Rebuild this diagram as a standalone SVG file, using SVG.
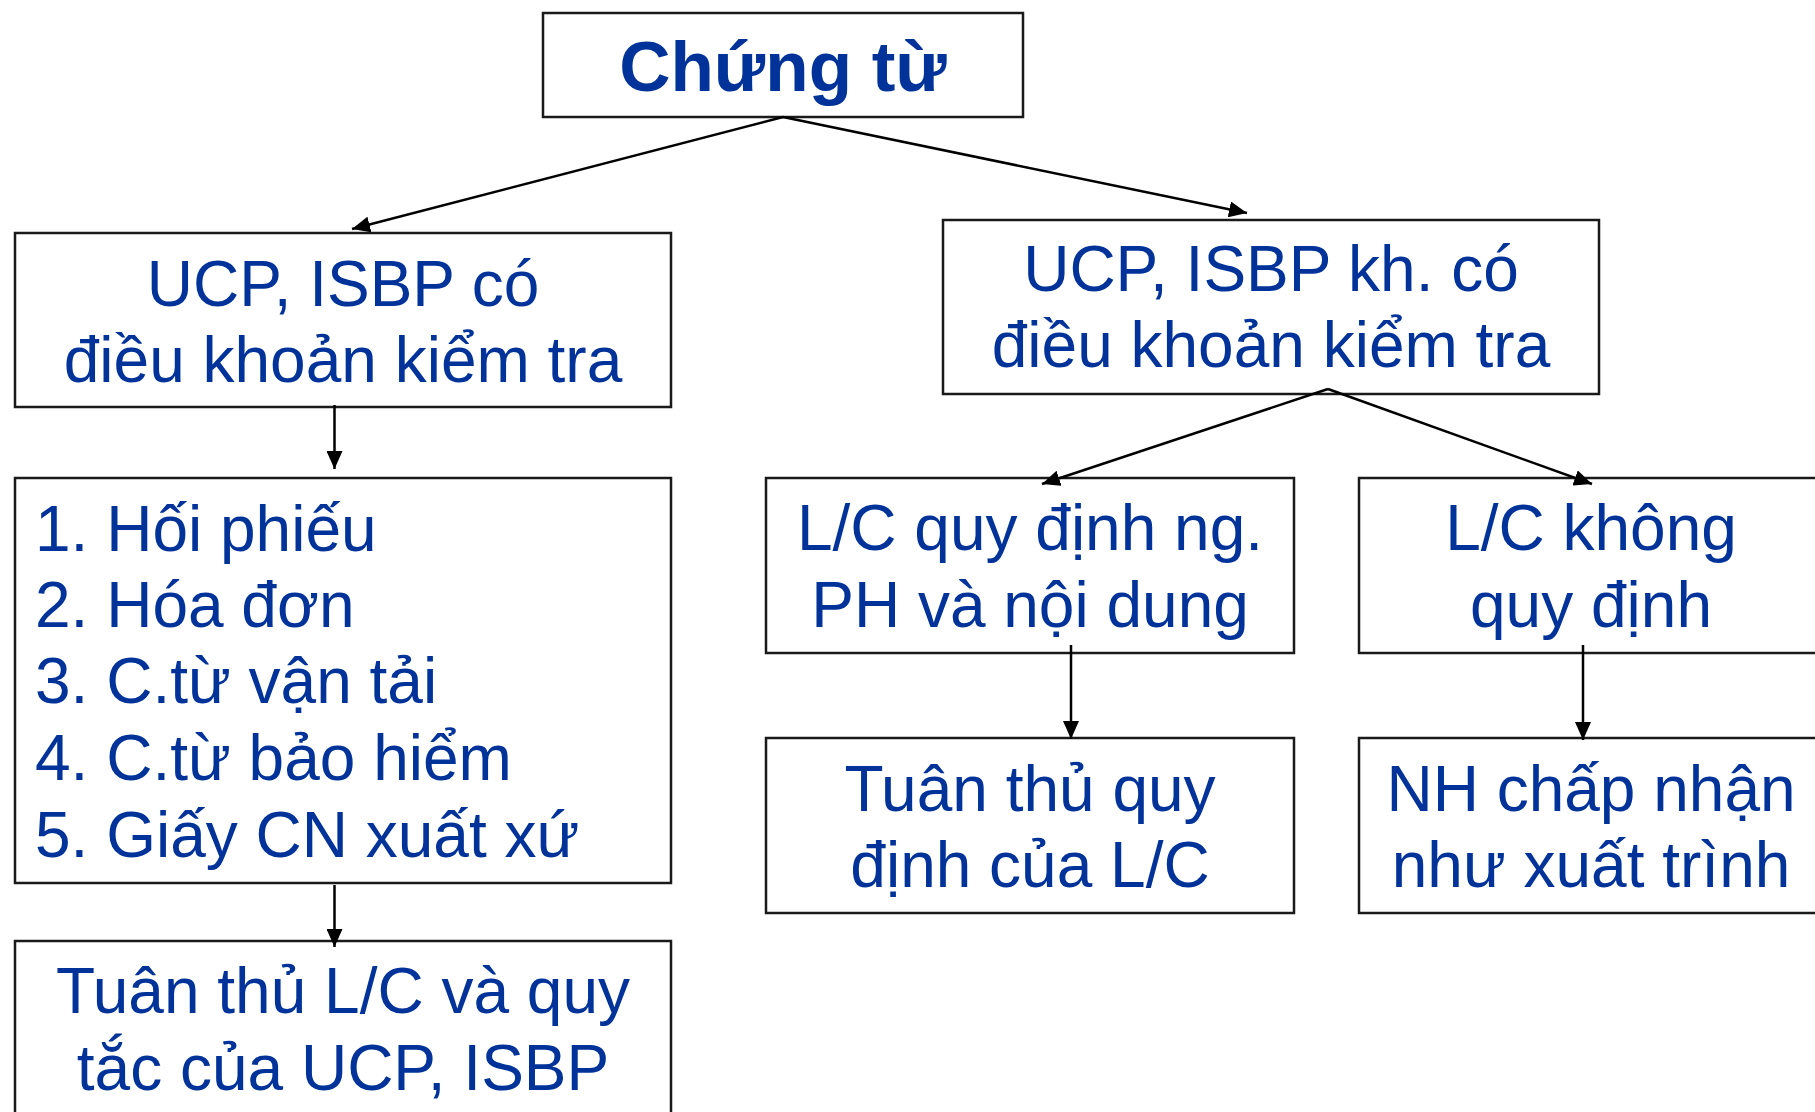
<svg xmlns="http://www.w3.org/2000/svg" width="1815" height="1112" viewBox="0 0 1815 1112">
  <style>
    .box { fill: #ffffff; stroke: #1a1a1a; stroke-width: 2.5; }
    .lbl { font-family: "Liberation Sans", Arial, sans-serif; font-size: 64px; fill: #003399; text-anchor: middle; }
    .lst { font-family: "Liberation Sans", Arial, sans-serif; font-size: 64px; fill: #003399; }
    .ttl { font-family: "Liberation Sans", Arial, sans-serif; font-size: 71px; font-weight: bold; fill: #003399; text-anchor: middle; }
    .con { stroke: #000000; stroke-width: 2.5; fill: none; marker-end: url(#arrow); }
  </style>
  <defs>
    <marker id="arrow" markerUnits="userSpaceOnUse" markerWidth="18" markerHeight="16" viewBox="0 0 18 16" refX="18" refY="8" orient="auto">
      <path d="M0,0 L18,8 L0,16 Z" fill="#000000"/>
    </marker>
  </defs>
  <rect width="1815" height="1112" fill="#ffffff"/>

  <g id="chung-tu">
    <rect class="box" x="543" y="13" width="480" height="104"/>
    <text class="ttl" x="783" y="91">Chứng từ</text>
  </g>

  <g id="ucp-co">
    <rect class="box" x="15" y="233" width="656" height="174"/>
    <text class="lbl" x="343" y="306">UCP, ISBP có</text>
    <text class="lbl" x="343" y="382">điều khoản kiểm tra</text>
  </g>

  <g id="ucp-khong">
    <rect class="box" x="943" y="220" width="656" height="174"/>
    <text class="lbl" x="1271" y="291">UCP, ISBP kh. có</text>
    <text class="lbl" x="1271" y="367">điều khoản kiểm tra</text>
  </g>

  <g id="danh-sach">
    <rect class="box" x="15" y="478" width="656" height="405"/>
    <text class="lst" x="35" y="551">1. Hối phiếu</text>
    <text class="lst" x="35" y="627">2. Hóa đơn</text>
    <text class="lst" x="35" y="703">3. C.từ vận tải</text>
    <text class="lst" x="35" y="780">4. C.từ bảo hiểm</text>
    <text class="lst" x="35" y="857">5. Giấy CN xuất xứ</text>
  </g>

  <g id="tuan-thu-ucp">
    <rect class="box" x="15" y="941" width="656" height="190"/>
    <text class="lbl" x="343" y="1013">Tuân thủ L/C và quy</text>
    <text class="lbl" x="343" y="1090">tắc của UCP, ISBP</text>
  </g>

  <g id="lc-quy-dinh">
    <rect class="box" x="766" y="478" width="528" height="175"/>
    <text class="lbl" x="1030" y="550">L/C quy định ng.</text>
    <text class="lbl" x="1030" y="627">PH và nội dung</text>
  </g>

  <g id="lc-khong">
    <rect class="box" x="1359" y="478" width="480" height="175"/>
    <text class="lbl" x="1591" y="550">L/C không</text>
    <text class="lbl" x="1591" y="627">quy định</text>
  </g>

  <g id="tuan-thu-lc">
    <rect class="box" x="766" y="738" width="528" height="175"/>
    <text class="lbl" x="1030" y="811">Tuân thủ quy</text>
    <text class="lbl" x="1030" y="887">định của L/C</text>
  </g>

  <g id="nh-chap-nhan">
    <rect class="box" x="1359" y="738" width="480" height="175"/>
    <text class="lbl" x="1591" y="811">NH chấp nhận</text>
    <text class="lbl" x="1591" y="887">như xuất trình</text>
  </g>

  <!-- connectors, drawn over the boxes -->
  <g id="connectors">
    <line class="con" x1="783" y1="117" x2="352" y2="229"/>
    <line class="con" x1="783" y1="117" x2="1247" y2="213"/>
    <line class="con" x1="334.5" y1="405" x2="334.5" y2="469"/>
    <line class="con" x1="334.5" y1="885" x2="334.5" y2="947"/>
    <line class="con" x1="1328" y1="389" x2="1042" y2="484"/>
    <line class="con" x1="1328" y1="389" x2="1592" y2="484"/>
    <line class="con" x1="1071" y1="645" x2="1071" y2="739"/>
    <line class="con" x1="1583" y1="645" x2="1583" y2="740"/>
  </g>
</svg>
